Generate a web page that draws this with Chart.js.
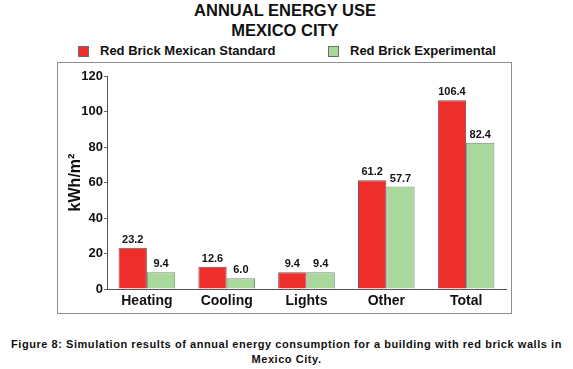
<!DOCTYPE html>
<html>
<head>
<meta charset="utf-8">
<script src="https://cdn.jsdelivr.net/npm/chart.js@4.4.0/dist/chart.umd.min.js"></script>
<style>
  body { margin: 0; background: #fff; width: 573px; height: 369px; position: relative; overflow: hidden;
         font-family: "Liberation Sans", Arial, sans-serif; color: #111; }
  .title { position: absolute; left: 0; top: 0; width: 570px; text-align: center; font-weight: bold;
           font-size: 16.5px; line-height: 20px; }
  .leg { position: absolute; top: 43px; font-weight: bold; font-size: 13px; line-height: 16px; white-space: nowrap; }
  .leg span.box { position: absolute; left: 0; top: 3px; width: 9px; height: 9px; border: 1px solid #6d6d6d; }
  .leg span.txt { position: absolute; left: 22px; top: 0; }
  .frame { position: absolute; left: 57px; top: 62px; width: 453px; height: 250px; border: 1px solid #8e8e8e; }
  .frame canvas { position: absolute; left: 0; top: 0; }
  .caption { position: absolute; left: 0; top: 337px; width: 573px; text-align: center; font-weight: bold;
             font-size: 11px; line-height: 15px; letter-spacing: 0.55px; }
</style>
</head>
<body>
<div class="title">ANNUAL ENERGY USE<br>MEXICO CITY</div>
<div class="leg" style="left:78px"><span class="box" style="background:#ee2e2b"></span><span class="txt">Red Brick Mexican Standard</span></div>
<div class="leg" style="left:328px"><span class="box" style="background:#a9d89c"></span><span class="txt">Red Brick Experimental</span></div>
<div class="frame"><canvas id="chart" width="453" height="250"></canvas></div>
<div class="caption">Figure 8: Simulation results of annual energy consumption for a building with red brick walls in<br>Mexico City.</div>
<script>
// данные с картинки
const categories = ["Heating", "Cooling", "Lights", "Other", "Total"];
const standardVals = [23.2, 12.6, 9.4, 61.2, 106.4];
const experimentalVals = [9.4, 6.0, 9.4, 57.7, 82.4];
const yTicks = [0, 20, 40, 60, 80, 100, 120];

const fontFam = '"Liberation Sans", Arial, sans-serif';

// подписи значений над столбиками
const valueLabels = {
    id: 'valueLabels',
    afterDatasetsDraw(chart) {
        const c = chart.ctx;
        c.save();
        c.font = 'bold 11px ' + fontFam;
        c.fillStyle = '#111';
        c.textAlign = 'center';
        c.textBaseline = 'alphabetic';
        chart.data.datasets.forEach((ds, i) => {
            chart.getDatasetMeta(i).data.forEach((bar, j) => {
                c.fillText(ds.data[j].toFixed(1), bar.x, bar.y - 5);
            });
        });
        c.restore();
    }
};

const ctx = document.getElementById('chart').getContext('2d');
const myChart = new Chart(ctx, {
    type: 'bar',
    data: {
        labels: categories,
        datasets: [{
            label: 'Red Brick Mexican Standard',
            data: standardVals,
            backgroundColor: '#ee2e2b',
            borderColor: 'rgba(110, 60, 60, 0.9)',
            borderWidth: 1
        }, {
            label: 'Red Brick Experimental',
            data: experimentalVals,
            backgroundColor: '#a9d89c',
            borderColor: 'rgba(110, 125, 105, 0.9)',
            borderWidth: 1
        }]
    },
    options: {
        responsive: false,
        animation: false,
        events: [],
        layout: { padding: { top: 13, right: 5, left: 0, bottom: 0 } },
        plugins: { legend: { display: false }, tooltip: { enabled: false } },
        datasets: { bar: { categoryPercentage: 0.71, barPercentage: 1.0 } },
        scales: {
            x: {
                grid: { display: false, drawTicks: false },
                border: { display: true, color: '#555', width: 1 },
                ticks: { color: '#111', font: { family: fontFam, size: 14, weight: 'bold' }, padding: 4 },
                afterFit(scale) { scale.height = 24; }
            },
            y: {
                min: 0,
                max: 120,
                ticks: {
                    stepSize: 10,
                    padding: 1,
                    color: '#111',
                    font: { family: fontFam, size: 13, weight: 'bold' },
                    callback: v => yTicks.includes(v) ? v : ''
                },
                grid: { drawOnChartArea: false, drawTicks: true, tickLength: 3, color: '#666' },
                border: { display: true, color: '#555', width: 1 },
                title: {
                    display: true,
                    text: 'kWh/m²',
                    color: '#111',
                    font: { family: fontFam, size: 16, weight: 'bold' },
                    padding: { top: 8, bottom: 0 }
                },
                afterFit(scale) { scale.width = 49; }
            }
        }
    },
    plugins: [valueLabels]
});
</script>
</body>
</html>
